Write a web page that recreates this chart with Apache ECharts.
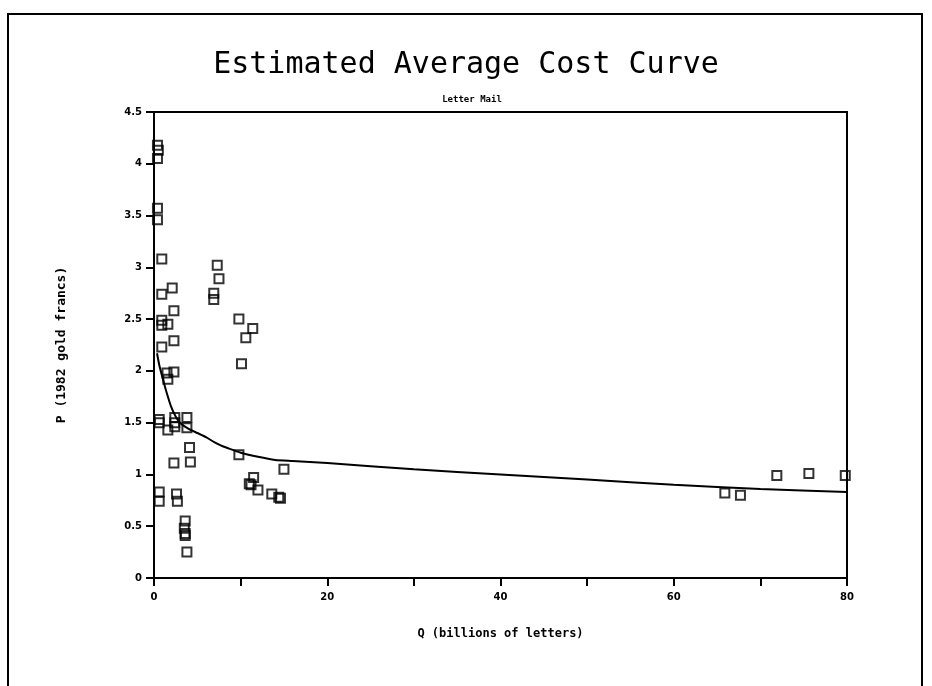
<!DOCTYPE html>
<html>
<head>
<meta charset="utf-8">
<script src="https://cdn.jsdelivr.net/npm/echarts@6/dist/echarts.min.js"></script>
<style>
html,body{margin:0;padding:0;background:#fff;}
#chart{width:932px;height:686px;}
</style>
</head>
<body>
<div id="chart"></div>
<script>
// Observed data points (Q billions of letters, P 1982 gold francs)
const obsQ = [0.4,0.5,0.4,0.4,0.4,0.9,0.9,0.9,0.9,0.9,2.1,2.3,1.6,2.3,1.5,2.3,1.6,0.6,0.6,1.6,2.4,2.4,2.4,3.8,3.8,4.1,2.3,4.2,0.6,0.6,2.6,2.7,3.6,3.5,3.6,3.6,3.8,7.3,7.5,6.9,6.9,9.8,11.4,10.6,10.1,9.8,15.0,11.5,11.0,11.2,12.0,13.6,14.4,14.6,65.9,67.7,71.9,75.6,79.8];
const obsP = [4.18,4.13,4.05,3.57,3.46,3.08,2.74,2.49,2.44,2.23,2.80,2.58,2.45,2.29,1.98,1.99,1.92,1.53,1.50,1.43,1.55,1.50,1.46,1.55,1.45,1.26,1.11,1.12,0.83,0.74,0.81,0.74,0.55,0.48,0.43,0.41,0.25,3.02,2.89,2.75,2.69,2.50,2.41,2.32,2.07,1.19,1.05,0.97,0.91,0.90,0.85,0.81,0.78,0.77,0.82,0.80,0.99,1.01,0.99];
// Estimated average cost curve
const curveQ = [0.35,0.6,1.0,1.5,2.0,2.5,3.0,4.0,5.0,6.0,7.0,8.0,9.0,10.0,12.0,14.0,16.0,20.0,30.0,40.0,50.0,60.0,70.0,80.0];
const curveP = [2.17,2.06,1.93,1.78,1.65,1.56,1.50,1.44,1.40,1.36,1.31,1.27,1.24,1.21,1.17,1.14,1.13,1.11,1.05,1.00,0.95,0.90,0.86,0.83];
const xTicks = [0,20,40,60,80];
const yTicks = [0,0.5,1,1.5,2,2.5,3,3.5,4,4.5];

const scatterData = obsQ.map((q,i)=>[q,obsP[i]]);
const curveData = curveQ.map((q,i)=>[q,curveP[i]]);

const chart = echarts.init(document.getElementById('chart'));
const labelFont = {color:'#000', fontFamily:'DejaVu Sans', fontWeight:'bold', fontSize:10};
chart.setOption({
  backgroundColor:'#fff',
  animation:false,
  graphic:[{type:'rect', shape:{x:8,y:14,width:914,height:700}, style:{fill:'none', stroke:'#000', lineWidth:2}, silent:true}],
  title:[
    {text:'Estimated Average Cost Curve', left:'center', top:45, textStyle:{fontFamily:'DejaVu Sans Mono', fontWeight:'normal', fontSize:30, color:'#000'}},
    {text:'Letter Mail', left:467, textAlign:'center', top:90, textStyle:{fontFamily:'DejaVu Sans Mono', fontWeight:'bold', fontSize:9, color:'#000'}}
  ],
  grid:{left:154, right:85, top:112, bottom:108, show:true, borderColor:'#000', borderWidth:2, backgroundColor:'transparent'},
  xAxis:{type:'value', min:0, max:80, interval:10,
    name:'Q (billions of letters)', nameLocation:'middle', nameGap:50,
    nameTextStyle:{color:'#000', fontFamily:'DejaVu Sans Mono', fontWeight:'bold', fontSize:12},
    axisLine:{lineStyle:{color:'#000', width:2}},
    axisTick:{length:8, lineStyle:{color:'#000', width:2}},
    axisLabel:Object.assign({margin:14, formatter:v=>xTicks.indexOf(v)>=0?String(v):''}, labelFont),
    splitLine:{show:false}},
  yAxis:{type:'value', min:0, max:4.5, interval:0.5,
    name:'P (1982 gold francs)', nameLocation:'middle', nameGap:86,
    nameTextStyle:{color:'#000', fontFamily:'DejaVu Sans Mono', fontWeight:'bold', fontSize:13},
    axisLine:{show:true, lineStyle:{color:'#000', width:2}},
    axisTick:{show:true, length:8, lineStyle:{color:'#000', width:2}},
    axisLabel:Object.assign({margin:12, formatter:v=>{const k=yTicks.find(t=>Math.abs(t-v)<1e-9);return k===undefined?'':String(k);}}, labelFont),
    splitLine:{show:false}},
  series:[
    {type:'line', data:curveData, smooth:0.2, symbol:'none', lineStyle:{color:'#000', width:2}, z:2},
    {type:'scatter', data:scatterData, symbol:'rect', symbolSize:9, clip:false,
      itemStyle:{color:'rgba(0,0,0,0)', borderColor:'#000', borderWidth:2}, z:3}
  ]
});
</script>
</body>
</html>
